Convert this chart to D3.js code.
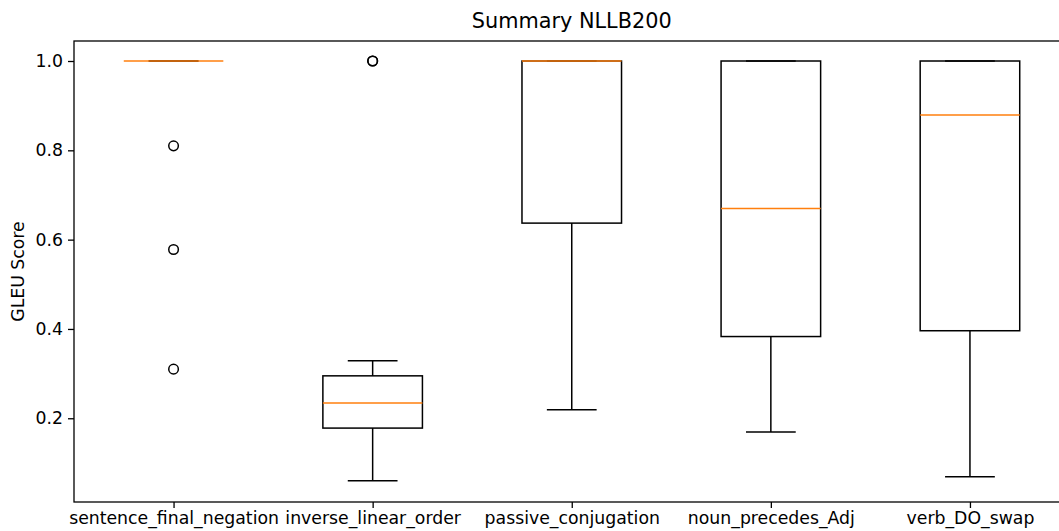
<!DOCTYPE html>
<html>
<head>
<meta charset="utf-8">
<script src="https://cdn.jsdelivr.net/npm/d3@7"></script>
<style>
  body { margin: 0; background: #fff; }
  text { font-family: "DejaVu Sans", sans-serif; fill: #000; }
</style>
</head>
<body>
<div id="chart"></div>
<script>
// values (box plot summary per category)
const categories = ['sentence_final_negation', 'inverse_linear_order', 'passive_conjugation', 'noun_precedes_Adj', 'verb_DO_swap'];
const whiskerLow  = [1.0, 0.060, 0.219, 0.169, 0.069];
const q1          = [1.0, 0.178, 0.637, 0.383, 0.396];
const medians     = [1.0, 0.234, 1.0, 0.670, 0.879];
const q3          = [1.0, 0.295, 1.0, 1.0, 1.0];
const whiskerHigh = [1.0, 0.329, 1.0, 1.0, 1.0];
const outliers    = [[0.81, 0.578, 0.31], [1.0, 1.0], [], [], []];
const yTicks = [0.2, 0.4, 0.6, 0.8, 1.0];

const width = 1059, height = 531;
const margin = { top: 41, left: 74, bottom: 29 };
const plotRight = 1069.5; // the axes run a little past the window edge

const svg = d3.select('#chart').append('svg')
  .attr('width', width)
  .attr('height', height);

const x = d3.scaleLinear()
  .domain([0.5, categories.length + 0.5])
  .range([margin.left, plotRight]);

const y = d3.scaleLinear()
  .domain([0.0125, 1.0448])
  .range([height - margin.bottom, margin.top]);

const data = categories.map((c, i) => ({
  name: c, pos: i + 1,
  lo: whiskerLow[i], q1: q1[i], med: medians[i], q3: q3[i], hi: whiskerHigh[i],
  out: outliers[i]
}));

const boxW = x(1.25) - x(1);
const capW = x(1.125) - x(1);

const g = svg.append('g');

// whiskers
g.selectAll('.whisker-low').data(data).enter().append('line')
  .attr('x1', d => x(d.pos)).attr('x2', d => x(d.pos))
  .attr('y1', d => y(d.q1)).attr('y2', d => y(d.lo))
  .attr('stroke', '#000').attr('stroke-width', 1.5);
g.selectAll('.whisker-high').data(data).enter().append('line')
  .attr('x1', d => x(d.pos)).attr('x2', d => x(d.pos))
  .attr('y1', d => y(d.q3)).attr('y2', d => y(d.hi))
  .attr('stroke', '#000').attr('stroke-width', 1.5);

// caps
['lo', 'hi'].forEach(k => {
  g.selectAll('.cap-' + k).data(data).enter().append('line')
    .attr('x1', d => x(d.pos) - capW).attr('x2', d => x(d.pos) + capW)
    .attr('y1', d => y(d[k])).attr('y2', d => y(d[k]))
    .attr('stroke', '#000').attr('stroke-width', 1.5);
});

// boxes
g.selectAll('.box').data(data).enter().append('rect')
  .attr('x', d => x(d.pos) - boxW)
  .attr('y', d => y(d.q3))
  .attr('width', boxW * 2)
  .attr('height', d => Math.max(0, y(d.q1) - y(d.q3)))
  .attr('fill', 'none')
  .attr('stroke', '#000').attr('stroke-width', 1.5);

// medians
g.selectAll('.median').data(data).enter().append('line')
  .attr('x1', d => x(d.pos) - boxW).attr('x2', d => x(d.pos) + boxW)
  .attr('y1', d => y(d.med)).attr('y2', d => y(d.med))
  .attr('stroke', '#ff7f0e').attr('stroke-width', 1.5);

// outliers
const flat = data.flatMap(d => d.out.map(v => ({ pos: d.pos, v })));
g.selectAll('.flier').data(flat).enter().append('circle')
  .attr('cx', d => x(d.pos)).attr('cy', d => y(d.v))
  .attr('r', 4.8)
  .attr('fill', 'none')
  .attr('stroke', '#000').attr('stroke-width', 1.5);

// axes
const yAxis = svg.append('g')
  .attr('transform', `translate(${margin.left},0)`)
  .call(d3.axisLeft(y).tickValues(yTicks).tickFormat(d3.format('.1f')).tickSizeOuter(0).tickSize(6).tickPadding(5));

const xAxis = svg.append('g')
  .attr('transform', `translate(0,${height - margin.bottom})`)
  .call(d3.axisBottom(x).tickValues(data.map(d => d.pos)).tickFormat((d, i) => categories[i]).tickSizeOuter(0).tickSize(6).tickPadding(4));

[yAxis, xAxis].forEach(a => {
  a.select('.domain').remove();
  a.selectAll('.tick line').attr('stroke', '#000').attr('stroke-width', 1.3);
  a.selectAll('.tick text').attr('font-size', 17.3).attr('font-family', '"DejaVu Sans", sans-serif').attr('fill', '#000');
});

// spines
svg.append('rect')
  .attr('x', margin.left).attr('y', margin.top)
  .attr('width', plotRight - margin.left)
  .attr('height', height - margin.bottom - margin.top)
  .attr('fill', 'none').attr('stroke', '#000').attr('stroke-width', 1.3);

// title & label
svg.append('text')
  .attr('x', (margin.left + plotRight) / 2).attr('y', 28)
  .attr('text-anchor', 'middle').attr('font-size', 20.8)
  .text('Summary NLLB200');

svg.append('text')
  .attr('transform', `translate(24,${(margin.top + height - margin.bottom) / 2}) rotate(-90)`)
  .attr('text-anchor', 'middle').attr('font-size', 17.3)
  .text('GLEU Score');
</script>
</body>
</html>
